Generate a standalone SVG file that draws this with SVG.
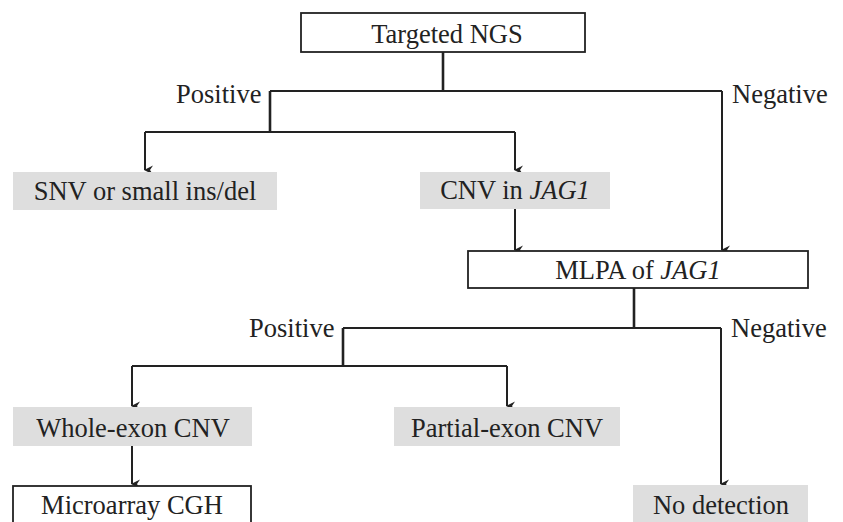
<svg xmlns="http://www.w3.org/2000/svg" width="843" height="522" viewBox="0 0 843 522">
<defs>
<marker id="arr" markerUnits="userSpaceOnUse" markerWidth="10" markerHeight="12" viewBox="0 0 10 12" refX="5" refY="11" orient="auto-start-reverse">
<path d="M0.5,3 L5,12 L9.5,3 L5,6 Z" fill="#222"/>
</marker>
</defs>
<style>
text{font-family:'Liberation Serif','DejaVu Serif',serif;font-size:26.5px;fill:#222}
.lbl{text-anchor:middle}
.box{fill:#fff;stroke:#222;stroke-width:1.8}
.gray{fill:#dedede;stroke:none}
.ln{fill:none;stroke:#222;stroke-width:2}
.stem{fill:none;stroke:#222;stroke-width:2.6}
</style>
<g id="connectors">
<polyline class="stem" points="443,52 443,91"/>
<polyline class="ln" points="270,91 722,91"/>
<polyline class="stem" points="270,91 270,132"/>
<polyline class="ln" points="145,132 515,132"/>
<path class="ln" d="M145,132 V170" marker-end="url(#arr)"/>
<path class="ln" d="M515,132 V170" marker-end="url(#arr)"/>
<path class="ln" d="M722,91 V250" marker-end="url(#arr)"/>
<path class="ln" d="M515,209 V250" marker-end="url(#arr)"/>
<polyline class="stem" points="634,288 634,328"/>
<polyline class="ln" points="343,328 721,328"/>
<polyline class="stem" points="343,328 343,366"/>
<polyline class="ln" points="132,366 507,366"/>
<path class="ln" d="M132,366 V406" marker-end="url(#arr)"/>
<path class="ln" d="M507,366 V406" marker-end="url(#arr)"/>
<path class="ln" d="M132,446 V484" marker-end="url(#arr)"/>
<path class="ln" d="M721,328 V484" marker-end="url(#arr)"/>
<text x="176" y="103">Positive</text>
<text x="732" y="103">Negative</text>
<text x="249" y="337">Positive</text>
<text x="731" y="337">Negative</text>
</g>
<g id="targeted-ngs">
<rect class="box" x="301" y="13" width="284" height="39"/>
<text class="lbl" x="447" y="43">Targeted NGS</text>
</g>
<g id="snv">
<rect class="gray" x="13" y="172" width="264" height="38"/>
<text class="lbl" x="145" y="200">SNV or small ins/del</text>
</g>
<g id="cnv-jag1">
<rect class="gray" x="420" y="172" width="190" height="37"/>
<text class="lbl" x="515" y="199">CNV in <tspan font-style="italic">JAG1</tspan></text>
</g>
<g id="mlpa">
<rect class="box" x="468" y="251" width="340" height="37"/>
<text class="lbl" x="638" y="279">MLPA of <tspan font-style="italic">JAG1</tspan></text>
</g>
<g id="whole-exon">
<rect class="gray" x="13" y="407" width="239" height="39"/>
<text class="lbl" x="133" y="437">Whole-exon CNV</text>
</g>
<g id="partial-exon">
<rect class="gray" x="394" y="407" width="226" height="39"/>
<text class="lbl" x="507" y="437">Partial-exon CNV</text>
</g>
<g id="microarray">
<rect class="box" x="13" y="486" width="238" height="40"/>
<text class="lbl" x="132" y="514">Microarray CGH</text>
</g>
<g id="no-detection">
<rect class="gray" x="633" y="485" width="175" height="40"/>
<text class="lbl" x="721" y="514">No detection</text>
</g>
</svg>
